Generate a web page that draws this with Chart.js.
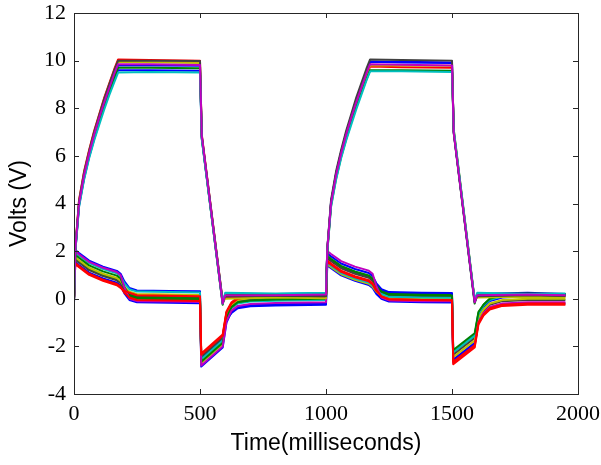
<!DOCTYPE html>
<html><head><meta charset="utf-8">
<script src="https://cdn.jsdelivr.net/npm/chart.js@4/dist/chart.umd.min.js"></script>
<style>html,body{margin:0;padding:0;background:#fff;} #wrap{width:601px;height:465px;}</style>
</head><body><div id="wrap"><canvas id="c" width="601" height="465"></canvas></div>
<script>
// ---- tick labels ----
const xTickValues = [0, 500, 1000, 1500, 2000];
const yTickValues = [-4, -2, 0, 2, 4, 6, 8, 10, 12];

// ---- time samples (ms) ----
const upperTime = [0, 5, 20, 40, 60, 80, 100, 120, 140, 160, 175, 300, 500, 507, 590, 600, 800, 1000,
  1005, 1020, 1040, 1060, 1080, 1100, 1120, 1140, 1160, 1175, 1300, 1500, 1507, 1590, 1600, 1800, 1950];
const lowerTime = [0, 5, 20, 60, 115, 170, 185, 200, 220, 250, 380, 500,
  505, 590, 605, 625, 650, 700, 800, 1000,
  1005, 1020, 1060, 1115, 1170, 1185, 1200, 1220, 1250, 1380, 1500,
  1505, 1590, 1605, 1625, 1650, 1700, 1800, 1950];

// ---- upper channel traces (V) ----
const upBlue    = [0, 2.0, 4.0, 5.2, 6.05, 6.85, 7.55, 8.2, 8.8, 9.4, 9.8, 9.8, 9.78, 6.8, -0.15, 0.1, 0.1, 0.12, 2.05, 4.05, 5.25, 6.15, 6.95, 7.65, 8.35, 8.95, 9.55, 9.95, 9.92, 9.9, 7.0, -0.15, 0.15, 0.12, 0.15];
const upGreen   = [0, 2.0, 3.95, 5.1, 6.0, 6.8, 7.45, 8.15, 8.7, 9.3, 9.7, 9.7, 9.68, 6.75, -0.25, 0.2, 0.18, 0.2, 1.95, 3.9, 5.05, 5.95, 6.7, 7.4, 8.05, 8.65, 9.2, 9.6, 9.6, 9.58, 6.95, -0.2, 0.2, 0.22, 0.2];
const upRed     = [0, 2.1, 4.15, 5.35, 6.25, 7.05, 7.75, 8.45, 9.05, 9.65, 10.05, 10.03, 10.0, 6.9, -0.1, 0.05, 0.08, 0.05, 2.0, 4.0, 5.2, 6.1, 6.85, 7.55, 8.2, 8.8, 9.35, 9.75, 9.72, 9.7, 7.05, -0.1, 0.1, 0.12, 0.1];
const upCyan    = [0, 1.95, 3.85, 5.0, 5.9, 6.65, 7.3, 7.95, 8.55, 9.1, 9.5, 9.52, 9.5, 6.7, -0.2, 0.25, 0.22, 0.25, 1.95, 3.85, 5.0, 5.9, 6.65, 7.3, 7.95, 8.55, 9.15, 9.55, 9.55, 9.52, 7.1, -0.05, 0.25, 0.2, 0.22];
const upMagenta = [0, 2.05, 4.0, 5.2, 6.1, 6.9, 7.6, 8.25, 8.85, 9.45, 9.85, 9.85, 9.82, 6.85, -0.2, 0.15, 0.15, 0.18, 2.05, 4.0, 5.2, 6.1, 6.9, 7.6, 8.25, 8.85, 9.45, 9.85, 9.83, 9.8, 6.95, -0.15, 0.15, 0.18, 0.15];
const upYellow  = [0, 2.05, 4.05, 5.25, 6.15, 6.95, 7.65, 8.35, 8.95, 9.55, 9.95, 9.93, 9.9, 6.8, -0.15, 0.0, 0.05, 0.02, 2.05, 4.0, 5.2, 6.05, 6.85, 7.55, 8.2, 8.8, 9.4, 9.8, 9.8, 9.78, 7.1, -0.05, 0.05, 0.08, 0.05];
const upDark    = [0, 2.1, 4.1, 5.3, 6.2, 7.0, 7.7, 8.4, 9.0, 9.6, 10.0, 10.0, 9.98, 6.85, -0.1, 0.1, 0.12, 0.1, 2.1, 4.15, 5.35, 6.25, 7.05, 7.75, 8.45, 9.05, 9.65, 10.05, 10.03, 10.0, 7.0, -0.1, 0.1, 0.15, 0.12];
const upBlue2   = [0, 1.95, 3.9, 5.05, 5.95, 6.7, 7.4, 8.05, 8.65, 9.2, 9.6, 9.6, 9.58, 6.75, -0.2, 0.2, 0.2, 0.22, 2.05, 4.05, 5.25, 6.15, 6.95, 7.65, 8.35, 8.95, 9.55, 9.95, 9.95, 9.92, 7.0, -0.1, 0.2, 0.25, 0.2];

// ---- lower channel traces (V) ----
const loBlue    = [-0.05, 2.05, 1.92, 1.6, 1.35, 1.17, 1.05, 0.73, 0.45, 0.35, 0.33, 0.31, -2.85, -2.05, -1.0, -0.55, -0.35, -0.27, -0.23, -0.2, 1.9, 1.78, 1.48, 1.25, 1.08, 0.95, 0.65, 0.4, 0.28, 0.25, 0.24, -2.55, -1.85, -0.8, -0.35, -0.1, 0.05, 0.1, 0.1];
const loGreen   = [-0.1, 1.85, 1.72, 1.4, 1.15, 0.97, 0.85, 0.48, 0.15, 0.05, 0.03, 0.01, -2.65, -1.85, -0.8, -0.35, -0.15, -0.07, -0.03, 0.0, 1.8, 1.68, 1.38, 1.15, 0.98, 0.85, 0.55, 0.3, 0.18, 0.15, 0.14, -2.15, -1.45, -0.55, -0.25, 0.0, 0.15, 0.2, 0.2];
const loRed     = [0.0, 1.45, 1.32, 1.0, 0.75, 0.57, 0.45, 0.33, 0.25, 0.15, 0.13, 0.11, -2.3, -1.5, -0.53, -0.15, 0.05, 0.13, 0.17, 0.2, 1.6, 1.48, 1.18, 0.95, 0.78, 0.65, 0.35, 0.1, -0.02, -0.05, -0.06, -2.75, -2.05, -1.08, -0.7, -0.45, -0.3, -0.25, -0.25];
const loCyan    = [-0.05, 1.95, 1.82, 1.5, 1.25, 1.07, 0.95, 0.65, 0.4, 0.3, 0.28, 0.26, -2.55, -1.75, -0.78, -0.4, -0.2, -0.12, -0.08, -0.05, 1.5, 1.38, 1.08, 0.85, 0.68, 0.55, 0.35, 0.2, 0.08, 0.05, 0.04, -2.25, -1.55, -0.63, -0.3, -0.05, 0.1, 0.15, 0.15];
const loMagenta = [-0.15, 2.0, 1.87, 1.55, 1.3, 1.12, 1.0, 0.48, 0.0, -0.1, -0.12, -0.14, -2.8, -2.0, -0.95, -0.5, -0.3, -0.22, -0.18, -0.15, 2.0, 1.88, 1.58, 1.35, 1.18, 1.05, 0.53, 0.05, -0.07, -0.1, -0.11, -2.7, -2.0, -1.0, -0.6, -0.35, -0.2, -0.15, -0.15];
const loYellow  = [-0.05, 1.75, 1.62, 1.3, 1.05, 0.87, 0.75, 0.5, 0.3, 0.2, 0.18, 0.16, -2.7, -1.9, -0.77, -0.25, -0.05, 0.03, 0.07, 0.1, 1.45, 1.33, 1.03, 0.8, 0.63, 0.5, 0.3, 0.15, 0.03, 0.0, -0.01, -2.45, -1.75, -0.8, -0.45, -0.2, -0.05, 0.0, 0.0];
const loDark    = [-0.05, 1.65, 1.52, 1.2, 0.95, 0.77, 0.65, 0.4, 0.2, 0.1, 0.08, 0.06, -2.45, -1.65, -0.67, -0.3, -0.1, -0.02, 0.02, 0.05, 1.7, 1.58, 1.28, 1.05, 0.88, 0.75, 0.48, 0.25, 0.13, 0.1, 0.09, -2.35, -1.65, -0.78, -0.5, -0.25, -0.1, -0.05, -0.05];
const loBlue2   = [-0.2, 1.55, 1.42, 1.1, 0.85, 0.67, 0.55, 0.23, -0.05, -0.15, -0.17, -0.19, -2.5, -1.7, -0.85, -0.6, -0.4, -0.32, -0.28, -0.25, 1.4, 1.28, 0.98, 0.75, 0.58, 0.45, 0.2, 0.0, -0.12, -0.15, -0.16, -2.6, -1.9, -0.98, -0.65, -0.4, -0.25, -0.2, -0.2];
const loGreen2  = [-0.1, 1.7, 1.57, 1.25, 1.0, 0.82, 0.7, 0.38, 0.1, 0.0, -0.02, -0.04, -2.4, -1.6, -0.6, -0.2, 0.0, 0.08, 0.12, 0.15, 1.75, 1.63, 1.33, 1.1, 0.93, 0.8, 0.55, 0.35, 0.23, 0.2, 0.19, -2.25, -1.55, -0.6, -0.25, 0.0, 0.15, 0.2, 0.2];
const loRed2    = [-0.05, 1.5, 1.37, 1.05, 0.8, 0.62, 0.5, 0.25, 0.05, -0.05, -0.07, -0.09, -2.35, -1.55, -0.58, -0.2, 0.0, 0.08, 0.12, 0.15, 1.55, 1.43, 1.13, 0.9, 0.73, 0.6, 0.33, 0.1, -0.02, -0.05, -0.06, -2.65, -1.95, -1.0, -0.65, -0.4, -0.25, -0.2, -0.2];

// MATLAB classic colour order
const cB = 'rgb(0,0,255)', cG = 'rgb(0,128,0)', cR = 'rgb(255,0,0)', cC = 'rgb(0,191,191)',
      cM = 'rgb(191,0,191)', cY = 'rgb(191,191,0)', cK = 'rgb(64,64,64)';

// [values, colour, draw order (lower = on top)]
const upperSeries = [
  [upBlue, cB, 5], [upGreen, cG, 3], [upRed, cR, 6], [upCyan, cC, 1], [upMagenta, cM, 0], [upYellow, cY, 4], [upDark, cK, 2], [upBlue2, cB, 7]
];
const lowerSeries = [
  [loBlue, cB, 17], [loGreen, cG, 13], [loRed, cR, 10], [loCyan, cC, 14], [loMagenta, cM, 12], [loYellow, cY, 15], [loDark, cK, 16], [loBlue2, cB, 18], [loGreen2, cG, 19], [loRed2, cR, 11]
];

function toPoints(times, vals) { return times.map((t, i) => ({x: t, y: vals[i]})); }
const datasets = [];
lowerSeries.forEach(([v, c, o]) => datasets.push({data: toPoints(lowerTime, v), borderColor: c, order: o}));
upperSeries.forEach(([v, c, o]) => datasets.push({data: toPoints(upperTime, v), borderColor: c, order: o}));
datasets.forEach(d => Object.assign(d, {borderWidth: 2, pointRadius: 0, fill: false, tension: 0, borderJoinStyle: 'round'}));

const AX = '#262626';
const framePlugin = {
  id: 'frame',
  afterDatasetsDraw(chart) {
    const {ctx, chartArea: a, scales: {x, y}} = chart;
    ctx.save();
    ctx.strokeStyle = AX; ctx.lineWidth = 1;
    ctx.strokeRect(Math.round(a.left) + 0.5, Math.round(a.top) + 0.5, Math.round(a.right - a.left), Math.round(a.bottom - a.top));
    const L = 5;
    ctx.beginPath();
    xTickValues.forEach(v => {
      const px = Math.round(x.getPixelForValue(v)) + 0.5;
      ctx.moveTo(px, a.bottom); ctx.lineTo(px, a.bottom - L);
      ctx.moveTo(px, a.top); ctx.lineTo(px, a.top + L);
    });
    yTickValues.forEach(v => {
      const py = Math.round(y.getPixelForValue(v)) + 0.5;
      ctx.moveTo(a.left, py); ctx.lineTo(a.left + L, py);
      ctx.moveTo(a.right, py); ctx.lineTo(a.right - L, py);
    });
    ctx.stroke();
    ctx.restore();
  }
};

const tickFont = {family: '"Liberation Serif", "Times New Roman", serif', size: 22, lineHeight: 1};
const titleFont = {family: '"Liberation Sans", Arial, sans-serif', size: 23, lineHeight: 1.2};

new Chart(document.getElementById('c'), {
  type: 'line',
  data: {datasets},
  options: {
    responsive: false, animation: false, devicePixelRatio: 1,
    layout: {padding: {left: 0, right: 23, top: 13, bottom: 0}},
    plugins: {legend: {display: false}, tooltip: {enabled: false}},
    scales: {
      x: {
        type: 'linear', min: 0, max: 2000,
        afterBuildTicks: s => { s.ticks = xTickValues.map(v => ({value: v})); },
        afterFit: s => { s.height = 71; s.paddingLeft = 0; s.paddingRight = 0; },
        grid: {display: false, drawTicks: false}, border: {display: false},
        ticks: {font: tickFont, color: '#000', padding: 9, maxRotation: 0, autoSkip: false,
                callback: v => String(v)},
        title: {display: true, text: 'Time(milliseconds)', font: titleFont, color: '#000', padding: {top: 0, bottom: 8}}
      },
      y: {
        type: 'linear', min: -4, max: 12,
        afterBuildTicks: s => { s.ticks = yTickValues.map(v => ({value: v})); },
        afterFit: s => { s.width = 74; s.paddingTop = 0; s.paddingBottom = 0; },
        grid: {display: false, drawTicks: false}, border: {display: false},
        ticks: {font: tickFont, color: '#000', padding: 8, autoSkip: false, callback: v => String(v)},
        title: {display: true, text: 'Volts (V)', font: titleFont, color: '#000', padding: {top: 6, bottom: 0}}
      }
    }
  },
  plugins: [framePlugin]
});
</script>
</body></html>
